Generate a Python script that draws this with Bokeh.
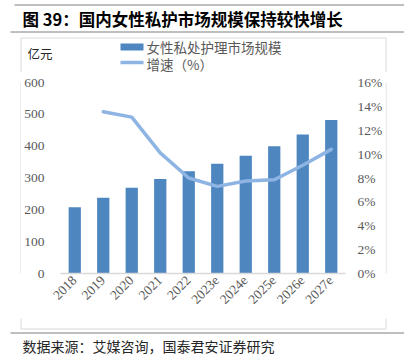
import math
from bokeh.plotting import figure
from bokeh.layouts import column, row
from bokeh.models import (FactorRange, Range1d, LinearAxis, FixedTicker,
                          NumeralTickFormatter, ColumnDataSource)
from bokeh.core.properties import value
from bokeh.embed import file_html
from bokeh.resources import INLINE

# ---- data ----
years = ["2018", "2019", "2020", "2021", "2022", "2023e", "2024e", "2025e", "2026e", "2027e"]
market_size = [208, 238, 269, 297, 321, 345, 370, 400, 437, 482]
growth_years = ["2019", "2020", "2021", "2022", "2023e", "2024e", "2025e", "2026e", "2027e"]
growth_pct = [0.1355, 0.131, 0.101, 0.080, 0.073, 0.0775, 0.0785, 0.0907, 0.104]
left_ticks = [0, 100, 200, 300, 400, 500, 600]
right_ticks = [0, 0.02, 0.04, 0.06, 0.08, 0.10, 0.12, 0.14, 0.16]
series_names = ["女性私处护理市场规模", "增速（%）"]
title_text = "图 39：国内女性私护市场规模保持较快增长"
source_text = "数据来源：艾媒咨询，国泰君安证券研究"
unit_text = "亿元"

BAR = "#4E86C0"
LINE = "#8DB4E2"
GREY = "#595959"
RULE = "#7F7F7F"
BOX = "#D9D9D9"
CJK = "Noto Sans CJK SC"
SERIF = "Liberation Serif"

PAGE_W = 404
Y_HEAD = 72      # page y where the main plot starts
Y_FOOT = 318     # page y where the footer starts
PAGE_H = 358
BOX_L, BOX_R, BOX_T, BOX_B = 20.5, 385.5, 37.5, 328.5
MAIN_X0, MAIN_X1 = 21, 385


def canvas(w, h, x0, y0):
    """A decoration figure whose frame is its whole canvas, in page pixels."""
    f = figure(width=w, height=h, x_range=Range1d(x0, x0 + w), y_range=Range1d(y0 + h, y0),
               output_backend="svg", toolbar_location=None,
               x_axis_location=None, y_axis_location=None, min_border=0)
    f.min_border_left = f.min_border_right = f.min_border_top = f.min_border_bottom = 0
    f.outline_line_color = None
    f.xgrid.grid_line_color = None
    f.ygrid.grid_line_color = None
    f.background_fill_color = "white"
    f.border_fill_color = "white"
    return f


def txt(f, x, y, s, size, color="#000000", font=CJK, style="normal"):
    f.text(x=[x], y=[y], text=[s], text_font=value(font), text_font_size=size,
           text_color=color, text_font_style=style, text_baseline="middle", text_align="left")


# ---- header: title, rules, top of chart box, legend, unit ----
head = canvas(PAGE_W, Y_HEAD, 0, 0)
head.segment(x0=[14, 10], y0=[4.5, 31.5], x1=[PAGE_W, PAGE_W], y1=[4.5, 31.5], line_color=RULE, line_width=1)
head.segment(x0=[BOX_L, BOX_L, BOX_R], y0=[BOX_T, BOX_T, BOX_T], x1=[BOX_R, BOX_L, BOX_R],
             y1=[BOX_T, Y_HEAD, Y_HEAD], line_color=BOX, line_width=1)
txt(head, 22, 18, title_text, "16.5px", style="bold")
txt(head, 27, 53, unit_text, "12.5px", color="#262626")
head.quad(left=[120], right=[143], top=[43], bottom=[50], fill_color=BAR, line_color=None)
head.segment(x0=[120], y0=[62], x1=[143], y1=[62], line_color=LINE, line_width=3.5)
txt(head, 146, 46.5, series_names[0], "13.5px", color=GREY)
txt(head, 146, 63, series_names[1], "13.5px", color=GREY)

# ---- side strips carrying the chart box borders ----
MAIN_H = Y_FOOT - Y_HEAD
left_strip = canvas(MAIN_X0, MAIN_H, 0, Y_HEAD)
left_strip.segment(x0=[BOX_L], y0=[Y_HEAD], x1=[BOX_L], y1=[Y_FOOT], line_color=BOX, line_width=1)
right_strip = canvas(PAGE_W - MAIN_X1, MAIN_H, MAIN_X1, Y_HEAD)
right_strip.segment(x0=[BOX_R], y0=[Y_HEAD], x1=[BOX_R], y1=[Y_FOOT], line_color=BOX, line_width=1)

# ---- main chart ----
FRAME_L, FRAME_R, FRAME_T, FRAME_B = 60, 345, 82.5, 273
p = figure(width=MAIN_X1 - MAIN_X0, height=MAIN_H,
           x_range=FactorRange(factors=years, range_padding=0),
           y_range=Range1d(0, 600), output_backend="svg", toolbar_location=None,
           min_border_left=FRAME_L - MAIN_X0, min_border_right=MAIN_X1 - FRAME_R,
           min_border_top=int(round(FRAME_T - Y_HEAD)), min_border_bottom=Y_FOOT - FRAME_B)
p.outline_line_color = None
p.xgrid.grid_line_color = None
p.ygrid.grid_line_color = None
p.background_fill_color = "white"
p.border_fill_color = "white"
p.extra_y_ranges = {"pct": Range1d(0, 0.16)}

src = ColumnDataSource(dict(year=years, size=market_size))
p.vbar(x="year", top="size", width=0.43, source=src, fill_color=BAR, line_color=None)
p.line(x=growth_years, y=growth_pct, y_range_name="pct", line_width=3.5,
       line_color=LINE, line_join="round", line_cap="round")


def style_axis(ax, standoff):
    ax.axis_line_color = None
    ax.major_tick_line_color = None
    ax.minor_tick_line_color = None
    ax.major_tick_out = 0
    ax.major_tick_in = 0
    ax.minor_tick_out = 0
    ax.minor_tick_in = 0
    ax.major_label_standoff = standoff
    ax.major_label_text_font = SERIF
    ax.major_label_text_font_size = "13.5px"
    ax.major_label_text_color = GREY


yl = p.yaxis[0]
yl.ticker = FixedTicker(ticks=left_ticks)
style_axis(yl, 16)

yr = LinearAxis(y_range_name="pct", ticker=FixedTicker(ticks=right_ticks),
                formatter=NumeralTickFormatter(format="0%"))
style_axis(yr, 12)
p.add_layout(yr, "right")

xa = p.xaxis[0]
style_axis(xa, 5)
xa.axis_line_color = BOX
xa.axis_line_width = 1.5
xa.major_label_orientation = math.pi / 4

# ---- footer: bottom of box, rule, source ----
foot = canvas(PAGE_W, PAGE_H - Y_FOOT, 0, Y_FOOT)
foot.segment(x0=[BOX_L, BOX_L, BOX_R], y0=[BOX_B, Y_FOOT, Y_FOOT], x1=[BOX_R, BOX_L, BOX_R],
             y1=[BOX_B, BOX_B, BOX_B], line_color=BOX, line_width=1)
foot.segment(x0=[10], y0=[332.5], x1=[PAGE_W], y1=[332.5], line_color=RULE, line_width=1)
txt(foot, 22, 345, source_text, "14px", color="#262626")

layout = column(head, row(left_strip, p, right_strip, spacing=0), foot, spacing=0)
open("out.html", "w").write(file_html(layout, INLINE))
